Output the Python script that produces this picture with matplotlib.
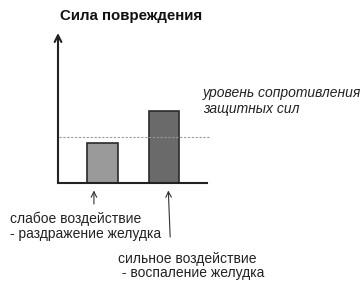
import matplotlib
matplotlib.use("Agg")
import matplotlib.pyplot as plt

# data
positions = [1, 2]
values = [2.7, 4.8]          # сила повреждения
threshold = 3.05             # уровень сопротивления защитных сил
bar_colors = ["#9a9a9a", "#6a6a6a"]
labels = ["слабое воздействие\n- раздражение желудка",
          "сильное воздействие\n - воспаление желудка"]

plt.rcParams["font.family"] = ["Liberation Sans", "DejaVu Sans"]

W, H = 363, 283
fig = plt.figure(figsize=(W / 100, H / 100), dpi=100)
# axes box in pixels: left 58, right 207, top 33, bottom 183
ax = fig.add_axes([58 / W, (H - 183) / H, (207 - 58) / W, (183 - 33) / H])

ax.bar(positions, values, width=0.5, color=bar_colors, edgecolor="#2a2a2a", linewidth=1.2)
ax.axhline(threshold, xmin=0.01, xmax=1.02, color="#999999", linestyle=(0, (2, 1.5)),
           linewidth=0.8, clip_on=False)

ax.set_xlim(0.276, 2.699)
ax.set_ylim(0, 10)
for s in ["top", "right", "left"]:
    ax.spines[s].set_visible(False)
ax.spines["bottom"].set_linewidth(1.5)
ax.spines["bottom"].set_color("#222222")
ax.set_xticks([])
ax.set_yticks([])

# vertical axis with arrow
ax.annotate("", xy=(0, 1), xytext=(0, 0), xycoords="axes fraction",
            arrowprops=dict(arrowstyle="->", lw=1.5, color="#222222",
                            mutation_scale=12, shrinkA=0, shrinkB=0))

fig.text(60 / W, 1 - 16 / H, "Сила повреждения", fontsize=10.8, fontweight="bold",
         va="center", ha="left", color="#111111")
fig.text(203 / W, 1 - 101 / H, "уровень сопротивления\nзащитных сил", fontsize=10,
         style="italic", va="center", ha="left", color="#222222", linespacing=1.15)

# arrows under the bars
ax.annotate("", xy=(positions[0] - 0.14, -0.5), xytext=(positions[0] - 0.14, -1.4),
            annotation_clip=False,
            arrowprops=dict(arrowstyle="->", lw=0.8, color="#333333", shrinkA=0, shrinkB=0))
ax.annotate("", xy=(positions[1] + 0.07, -0.5), xytext=(positions[1] + 0.1, -3.6),
            annotation_clip=False,
            arrowprops=dict(arrowstyle="->", lw=0.8, color="#333333", shrinkA=0, shrinkB=0))

fig.text(10 / W, 1 - 226 / H, labels[0], fontsize=10, va="center", ha="left",
         color="#222222", linespacing=1.1)
fig.text(118 / W, 1 - 266 / H, labels[1], fontsize=10, va="center", ha="left",
         color="#222222", linespacing=1.05)

fig.savefig("out.png", dpi=100)
